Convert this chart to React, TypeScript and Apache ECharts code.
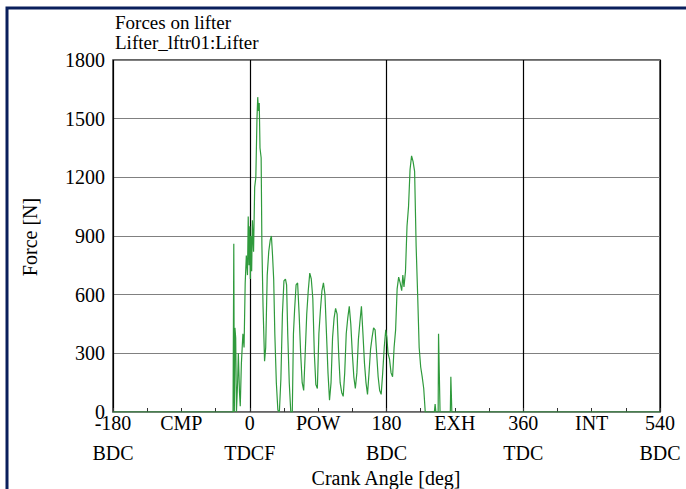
import React, { useEffect, useRef } from "react";
import * as echarts from "echarts";

const crankAngle = [
  -180, -22, -21, -20.3, -19.5, -18.5, -17.5, -16, -15, -13.5, -12.5, -11, -9, -7.5, -6, -4.5, -3, -2, -1, 0,
  0.8, 1.5, 2.5, 3.5, 5, 6.5, 8, 9.5, 10.5, 11.5, 12.5, 13.5, 15, 16, 17.5, 19.5, 21, 23, 25, 27,
  28.5, 30, 31.5, 33, 35, 37, 39, 41, 43, 45, 47, 48.5, 50, 52, 54, 56, 57.5, 59, 61, 63,
  65, 67, 69, 71, 73, 75, 77, 79, 81, 83, 85, 87, 89, 91, 93, 95, 97, 99, 101, 103,
  105, 107, 109, 111, 113, 115, 117, 119, 121, 123, 125, 127, 129, 131, 133, 135, 137, 139, 141, 143,
  145, 147, 149, 151, 153, 155, 157, 159, 161, 163, 165, 167, 169, 171, 173, 175, 177, 179, 180.5, 182,
  184, 186, 188, 190, 192, 194, 196, 198, 200, 201.5, 203, 205, 207, 209, 211, 213, 215, 217, 219, 221,
  223, 225, 227, 229, 231, 243, 244, 245, 248, 248.5, 249.5, 250.5, 264, 264.7, 265.5, 266, 540,
];

const force = [
  0, 0, 860, 0, 430, 380, 0, 150, 300, 100, 30, 250, 400, 330, 660, 800, 700, 1000, 750, 950,
  680, 900, 720, 980, 820, 1150, 1200, 1500, 1610, 1540, 1580, 1350, 1300, 850, 540, 260, 330, 700, 820, 880,
  900, 800, 680, 400, 150, 10, 0, 170, 500, 670, 680, 650, 400, 150, 0, 0, 400, 520, 650, 660,
  500, 300, 150, 110, 300, 500, 620, 710, 680, 580, 300, 140, 120, 400, 520, 620, 660, 600, 400, 200,
  60, 150, 380, 480, 530, 500, 300, 150, 100, 80, 200, 400, 480, 540, 450, 300, 180, 120, 200, 370,
  460, 540, 400, 250, 150, 90, 200, 320, 380, 430, 420, 300, 180, 110, 90, 200, 330, 420, 380, 300,
  270, 200, 180, 330, 420, 630, 690, 660, 620, 700, 640, 720, 950, 1050, 1240, 1310, 1280, 1230, 850, 600,
  330, 230, 180, 120, 0, 0, 40, 0, 0, 400, 200, 0, 0, 180, 70, 0, 0,
];

const yTicks = [0, 300, 600, 900, 1200, 1500, 1800];
const xTopLabels: Record<number, string> = {
  [-180]: "-180", [-90]: "CMP", 0: "0", 90: "POW", 180: "180", 270: "EXH", 360: "360", 450: "INT", 540: "540",
};
const xBottomLabels: Record<number, string> = {
  [-180]: "BDC", 0: "TDCF", 180: "BDC", 360: "TDC", 540: "BDC",
};
const titleLines = ["Forces on lifter", "Lifter_lftr01:Lifter"];
const xName = "Crank Angle [deg]";
const yName = "Force [N]";

const FONT = "'Liberation Serif', 'Times New Roman', serif";

export default function App() {
  const ref = useRef<HTMLDivElement>(null);
  useEffect(() => {
    if (!ref.current) return;
    const chart = echarts.init(ref.current, undefined, { renderer: "svg" });
    const data = crankAngle.map((a, i) => [a, force[i]]);
    chart.setOption({
      animation: false,
      backgroundColor: "#ffffff",
      textStyle: { fontFamily: FONT },
      grid: { left: 113, top: 60, right: 26, bottom: 77, show: true, borderColor: "#333333", borderWidth: 1.5, backgroundColor: "transparent" },
      xAxis: [
        {
          type: "value", min: -180, max: 540, interval: 45,
          axisLine: { show: false },
          axisTick: { show: true, inside: true, length: 4, lineStyle: { color: "#333" } },
          splitLine: { show: false },
          axisLabel: {
            show: true, margin: -4, color: "#000", fontFamily: FONT, fontSize: 20, lineHeight: 30,
            showMinLabel: true, showMaxLabel: true, hideOverlap: false,
            formatter: (v: number) => {
              const t = xTopLabels[v];
              if (t === undefined) return "";
              const b = xBottomLabels[v];
              return b ? t + "\n" + b : t;
            },
          },
        },
        {
          type: "value", min: -180, max: 540, interval: 180, position: "bottom",
          axisLine: { show: false }, axisTick: { show: false }, axisLabel: { show: false },
          splitLine: { show: true, lineStyle: { color: "#000", width: 1.2 } },
        },
      ],
      yAxis: {
        type: "value", min: yTicks[0], max: yTicks[yTicks.length - 1], interval: 300,
        axisLine: { show: false },
        axisTick: { show: true, length: 3, lineStyle: { color: "#808080" } },
        splitLine: { show: true, lineStyle: { color: "#808080", width: 1.2 } },
        axisLabel: { color: "#000", fontFamily: FONT, fontSize: 20, margin: 8, lineHeight: 16, formatter: (v: number) => String(v) },
      },
      graphic: [
        { type: "rect", shape: { x: 7, y: 8, width: 700, height: 520 }, style: { fill: "none", stroke: "#0a1f5c", lineWidth: 3 } },
        { type: "text", x: 115, y: 13, style: { text: titleLines[0], font: `19px ${FONT}`, fill: "#000" } },
        { type: "text", x: 115, y: 33, style: { text: titleLines[1], font: `19px ${FONT}`, fill: "#000" } },
        { type: "text", x: 386, y: 478, style: { text: xName, font: `20px ${FONT}`, fill: "#000", align: "center", verticalAlign: "middle" } },
        { type: "text", x: 30, y: 237, rotation: Math.PI / 2, style: { text: yName, font: `20px ${FONT}`, fill: "#000", align: "center", verticalAlign: "middle" } },
      ],
      series: [
        {
          type: "line", xAxisIndex: 0, data, symbol: "none",
          lineStyle: { color: "#2f9a3c", width: 1.2 },
        },
      ],
    });
    return () => chart.dispose();
  }, []);
  return <div ref={ref} style={{ position: "fixed", left: 0, top: 0, width: 686, height: 489 }} />;
}
